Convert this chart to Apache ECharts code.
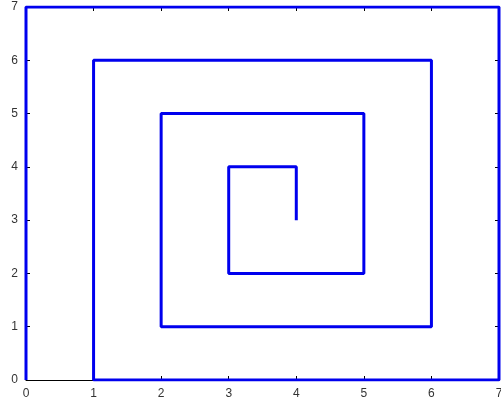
<!DOCTYPE html>
<html>
<head>
<meta charset="utf-8">
<script src="https://cdn.jsdelivr.net/npm/echarts@6/dist/echarts.min.js"></script>
<style>
  html, body { margin: 0; padding: 0; background: #fff; }
  #chart { width: 501px; height: 407px; }
</style>
</head>
<body>
<div id="chart"></div>
<script>
// Square spiral, vertex by vertex, from the centre outwards
const xs = [4, 4, 3, 3, 5, 5, 2, 2, 6, 6, 1, 1, 7, 7, 0, 0];
const ys = [3, 4, 4, 2, 2, 5, 5, 1, 1, 6, 6, 0, 0, 7, 7, 0];
const tickValues = [0, 1, 2, 3, 4, 5, 6, 7];

const points = xs.map((x, i) => [x, ys[i]]);

const chart = echarts.init(document.getElementById('chart'), null, { renderer: 'canvas' });

const labelStyle = { color: '#333', fontFamily: 'Liberation Sans, Arial, sans-serif', fontSize: 12 };

function axis(pos, showLabels) {
  return {
    type: 'value',
    position: pos,
    min: 0, max: 7, interval: 1,
    axisLine: { show: true, onZero: false, lineStyle: { color: '#000', width: 1 } },
    axisTick: { show: true, inside: true, length: 4, lineStyle: { color: '#000' } },
    axisLabel: Object.assign({ show: showLabels, margin: 8, hideOverlap: false,
      formatter: v => tickValues.includes(v) ? String(v) : '' }, labelStyle),
    splitLine: { show: false }
  };
}

chart.setOption({
  animation: false,
  backgroundColor: '#fff',
  grid: { left: 26, right: 2, top: 7, bottom: 27, containLabel: false, outerBoundsMode: 'none' },
  xAxis: [axis('bottom', true), axis('top', false)],
  yAxis: [axis('left', true), axis('right', false)],
  series: [{
    type: 'line',
    data: points,
    showSymbol: false,
    lineStyle: { color: '#0000ee', width: 3 },
    z: 5
  }]
});
</script>
</body>
</html>
